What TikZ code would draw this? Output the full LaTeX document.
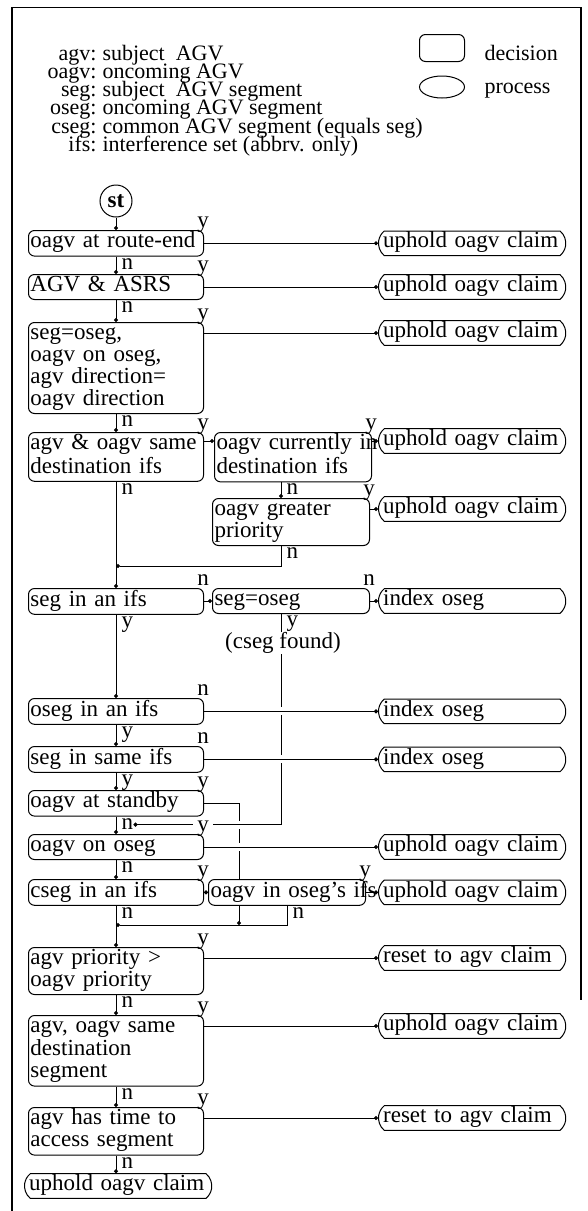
\documentclass[tikz,border=0pt]{standalone}
\usepackage{fontspec}
\setmainfont{Liberation Serif}
\usetikzlibrary{positioning,arrows.meta,shapes.misc,shapes.geometric,calc}
\newcommand{\chartfont}{\fontsize{23}{22}\selectfont}
\newcommand{\legendfont}{\fontsize{22}{18}\selectfont}

\begin{document}
\begin{tikzpicture}[x=1pt, y=-1pt, line width=1pt, inner sep=0pt, font=\chartfont]
    % Styles
    \tikzstyle{startstop} = [circle, draw=black, minimum size=32pt, inner sep=0pt, font=\chartfont\bfseries]
    \tikzstyle{decision} = [rectangle, rounded corners=6pt, draw=black, fill=white, anchor=north west,
                            text width=171pt, inner xsep=2pt, inner ysep=1.5pt, align=left,
                            execute at begin node=\strut, execute at end node=\strut]
    \tikzstyle{subdecision} = [decision, text width=153pt]
    \tikzstyle{process} = [rounded rectangle, rounded rectangle arc length=100, draw=black, fill=white,
                           anchor=west, text width=178pt, inner xsep=0pt, inner ysep=1pt, align=left,
                           execute at begin node=\strut]
    \tikzstyle{legtext} = [font=\legendfont, text height=12pt, text depth=4pt]
    \tikzstyle{arrow} = [-{Circle[length=4pt]}]
    \tikzstyle{hop} = [preaction={draw=white, line width=8pt, arrows=-, shorten <=10pt, shorten >=10pt}]
    \tikzstyle{cornerlab} = [anchor=base, inner sep=1pt, text height=9pt, text depth=0pt]
    \tikzstyle{downlab} = [anchor=north west, inner sep=0pt, text height=9pt, text depth=0pt]

    \useasboundingbox (0,0) rectangle (588,1211);

    % Frame
    \draw[line width=1.2pt] (12,1211) -- (12,7.5) -- (581,7.5) -- (581,1000);

    % Legend
    \foreach \k/\d [count=\i from 0] in {agv/subject~ AGV, oagv/oncoming AGV, seg/subject~ AGV segment,
        oseg/oncoming AGV segment, cseg/common AGV segment (equals seg), ifs/interference set (abbrv. only)} {
        \node[legtext, anchor=base east] (key\i) at (97,{60+18.3*\i}) {\k:};
        \node[legtext, anchor=base west] (def\i) at (102,{60+18.3*\i}) {\d};
    }
    \node[rectangle, rounded corners=6pt, draw, minimum width=45pt, minimum height=27pt] (legdec) at (442,48) {};
    \node[legtext, anchor=base west] (legdectxt) at (484,60) {decision};
    \node[ellipse, draw, minimum width=45pt, minimum height=22pt] (legproc) at (442,87) {};
    \node[legtext, anchor=base west] (legproctxt) at (484,93) {process};

    % Column positions
    \coordinate (mainx) at (116,0);
    \coordinate (colx) at (281,0);
    \coordinate (dashx) at (239,0);
    \coordinate (procx) at (378,0);
    \coordinate (j1) at (281,566);
    \coordinate (j2) at (287,925);

    % Decisions
    \node[startstop] (st) at (116,201) {st};
    \node[decision] (b1) at (28,230) {oagv at route-end};
    \node[decision] (b2) at (28,274) {AGV \& ASRS};
    \node[decision] (b3) at (28,322) {seg=oseg,\\oagv on oseg,\\agv direction=\\oagv direction};
    \node[decision] (b4) at (28,432) {agv \& oagv same\\destination ifs};
    \node[subdecision] (b5) at (214,432) {\mbox{oagv currently in}\\destination ifs};
    \node[subdecision] (b6) at (212,498) {oagv greater\\priority};
    \node[decision] (b7) at (28,588) {seg in an ifs};
    \node[subdecision] (b8) at (212,588) {seg=oseg};
    \node[decision] (b9) at (28,698) {oseg in an ifs};
    \node[decision] (b10) at (28,746) {seg in same ifs};
    \node[decision] (b11) at (28,790) {oagv at standby};
    \node[decision] (b12) at (28,834) {oagv on oseg};
    \node[decision] (b13) at (28,879) {cseg in an ifs};
    \node[subdecision] (b14) at (208,879) {\mbox{oagv in oseg's ifs}};
    \node[decision] (b15) at (28,947) {agv priority >\\oagv priority};
    \node[decision] (b16) at (28,1015) {agv, oagv same\\destination\\segment};
    \node[decision] (b17) at (28,1107) {agv has time to\\access segment};
    \node (cf) at (283,643) {(cseg found)};

    % Processes
    \node[process] (p1) at (b1.east -| procx) {uphold oagv claim};
    \node[process] (p2) at (b2.east -| procx) {uphold oagv claim};
    \node[process] (p3) at ($(b3.north -| procx)+(0,11)$) {uphold oagv claim};
    \node[process] (p4) at ($(b5.north -| procx)+(0,9)$) {uphold oagv claim};
    \node[process] (p5) at ($(b6.north -| procx)+(0,11)$) {uphold oagv claim};
    \node[process] (p6) at (b8.east -| procx) {index oseg};
    \node[process] (p7) at (b9.east -| procx) {index oseg};
    \node[process] (p8) at (b10.east -| procx) {index oseg};
    \node[process] (p9) at (b12.east -| procx) {uphold oagv claim};
    \node[process] (p10) at (b14.east -| procx) {uphold oagv claim};
    \node[process] (p11) at ($(b15.north -| procx)+(0,11)$) {reset to agv claim};
    \node[process] (p12) at ($(b16.north -| procx)+(0,11)$) {uphold oagv claim};
    \node[process] (p13) at ($(b17.north -| procx)+(0,11)$) {reset to agv claim};
    \node[process] (p14) at (24,1186) {uphold oagv claim};

    % Branch labels
    \foreach \b/\t in {b1/y, b2/y, b3/y, b4/y, b5/y, b6/y, b7/n, b8/n, b9/n, b10/n, b11/y, b13/y, b14/y, b15/y, b16/y, b17/y}
        \node[cornerlab] (c\b) at ($(\b.north east)+(-1,-3)$) {\t};
    \foreach \b/\t in {b1/n, b2/n, b3/n, b4/n, b7/y, b9/y, b10/y, b11/n, b12/n, b13/n, b15/n, b16/n, b17/n}
        \node[downlab] (d\b) at ($(\b.south -| mainx)+(5,3)$) {\t};
    \node[downlab] (db5) at ($(b5.south -| colx)+(5,3)$) {n};
    \node[downlab] (db6) at ($(b6.south -| colx)+(5,3)$) {n};
    \node[downlab] (db8) at ($(b8.south -| colx)+(5,3)$) {y};
    \node[downlab] (db14) at ($(b14.south -| j2)+(5,3)$) {n};

    % Main column
    \draw[arrow] (st.south) -- (b1.north -| st.south);
    \foreach \a/\b in {b1/b2, b2/b3, b3/b4, b4/b7, b7/b9, b9/b10, b10/b11, b11/b12, b12/b13, b13/b15, b15/b16, b16/b17, b17/p14}
        \draw[arrow] (\a.south -| mainx) -- (\b.north -| mainx);

    % Branches to the right
    \foreach \a/\b in {b1/p1, b2/p2, b3/p3, b5/p4, b6/p5, b7/b8, b8/p6, b13/b14, b14/p10, b15/p11, b16/p12, b17/p13}
        \draw[arrow] (\a.east |- \b.west) -- (\b.west);
    \draw[arrow] (b4.east |- p4.west) -- (b5.west |- p4.west);

    % Joins back to the main column
    \draw[arrow] (b5.south -| colx) -- (b6.north -| colx);
    \draw[arrow] (b6.south -| j1) -- (j1) -- (j1 -| mainx);
    \draw (b11.east) -- (b11.east -| dashx) -- (b14.north -| dashx);
    \draw[arrow] (b14.south -| dashx) -- (dashx |- j2);
    \draw[arrow] (b14.south -| j2) -- (j2) -- (j2 -| mainx);
    \draw (b8.south -| colx) -- (cf.north -| colx);
    \draw[arrow, hop] (cf.south -| colx) -- (colx |- db11.east) -- (db11.east);

    % Crossing branches
    \foreach \a/\b in {b9/p7, b10/p8, b12/p9}
        \draw[arrow, hop] (\a.east |- \b.west) -- (\b.west);
    \node[cornerlab, fill=white, inner xsep=4pt] (cb12) at ($(b12.north east)+(-1,-3)$) {y};

\end{tikzpicture}
\end{document}
